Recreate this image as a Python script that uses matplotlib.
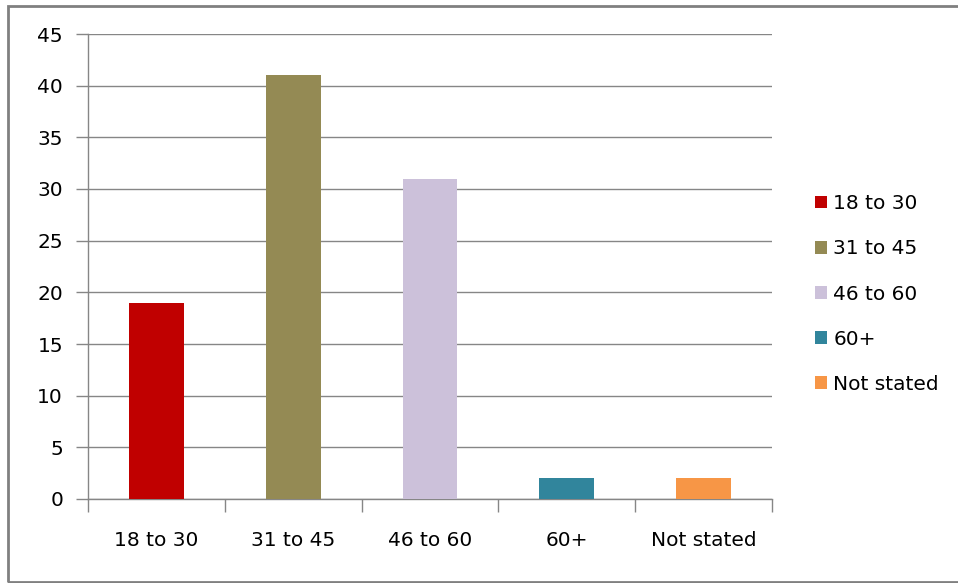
import matplotlib.pyplot as plt
from matplotlib.patches import Rectangle, Patch
import numpy as np

categories = ['18 to 30', '31 to 45', '46 to 60', '60+', 'Not stated']
values = [19, 41, 31, 2, 2]
colors = ['#C00000', '#948A54', '#CCC1DA', '#31859C', '#F79646']
y_ticks = [0, 5, 10, 15, 20, 25, 30, 35, 40, 45]

grey = '#868686'

fig = plt.figure(figsize=(9.58, 5.83), dpi=100)
ax = fig.add_axes([88 / 958, 1 - 499 / 583, (772 - 88) / 958, (499 - 34) / 583])

x = np.arange(len(categories))
ax.bar(x, values, width=0.4, color=colors, zorder=3)

ax.set_xlim(-0.5, len(categories) - 0.5)
ax.set_ylim(0, 45)
ax.set_yticks(y_ticks)
ax.yaxis.grid(True, color=grey, linewidth=1, zorder=0)

# category boundaries as major ticks, labels on minor ticks
ax.set_xticks(np.arange(len(categories) + 1) - 0.5)
ax.set_xticklabels([])
ax.set_xticks(x, minor=True)
ax.set_xticklabels(categories, minor=True, fontsize=14.5)
ax.tick_params(axis='x', which='major', length=9, color=grey, width=1, direction='out')
ax.tick_params(axis='x', which='minor', length=0, pad=23)
ax.tick_params(axis='y', length=9, color=grey, width=1, pad=9, labelsize=14.5)

for side in ['top', 'right']:
    ax.spines[side].set_visible(False)
for side in ['left', 'bottom']:
    ax.spines[side].set_color(grey)
    ax.spines[side].set_linewidth(1)

handles = [Patch(facecolor=c, edgecolor='none') for c in colors]
fig.legend(handles, categories, loc='center left', bbox_to_anchor=(797 / 958, 1 - 294 / 583),
           frameon=False, fontsize=14.5, handlelength=0.6, handleheight=0.6,
           handletextpad=0.3, labelspacing=1.3)

# outer frame, right edge falls outside the image as in the reference
fig.patches.append(Rectangle((8 / 958, 1.5 / 583), 1.0, 576 / 583, transform=fig.transFigure,
                             fill=False, edgecolor='#808080', linewidth=2))

fig.savefig('out.png', dpi=100)
